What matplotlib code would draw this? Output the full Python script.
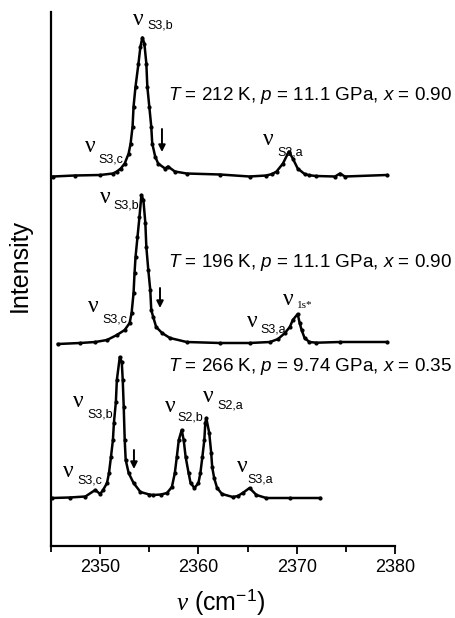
"""
Raman spectra of the S2/S3 stretching region at three (T, p, x) conditions,
stacked with vertical offsets.
"""

import matplotlib
matplotlib.use('Agg')
import matplotlib.pyplot as plt
import numpy as np

plt.rcParams['font.family'] = ['Liberation Sans', 'DejaVu Sans']
plt.rcParams['mathtext.fontset'] = 'custom'
plt.rcParams['mathtext.rm'] = 'Liberation Sans'
plt.rcParams['mathtext.it'] = 'Liberation Serif:italic'
plt.rcParams['mathtext.sf'] = 'Liberation Sans:italic'

# ---- spectra (wavenumber in cm-1, intensity above baseline, a.u.) ----
# T = 212 K, p = 11.1 GPa, x = 0.90
nu_212 = [2345.2, 2347.4, 2350.0, 2351.3, 2351.7, 2352.1, 2352.5, 2352.9, 2353.1,
          2353.3, 2353.4, 2353.6, 2353.9, 2354.1, 2354.3, 2354.5, 2354.7, 2354.8,
          2355.0, 2355.2, 2355.3, 2355.6, 2355.9, 2356.6, 2356.9, 2357.6, 2358.8,
          2362.2, 2365.2, 2366.9, 2367.5, 2367.95, 2368.6, 2369.2, 2369.6, 2370.1,
          2370.8, 2371.3, 2372.0, 2373.9, 2374.4, 2374.9, 2379.15]
int_212 = [0, 1, 1.5, 3, 5, 8, 13, 23, 33,
           50, 70, 90, 113, 130, 139, 133, 113, 90,
           70, 50, 33, 20, 13, 8, 10, 5, 3,
           2, 0, 1, 2.5, 5, 13, 25, 18, 8,
           2.5, 1.2, 0.5, 0, 3, 0, 1.5]

# T = 196 K, p = 11.1 GPa, x = 0.90
nu_196 = [2345.7, 2347.95, 2349.5, 2350.7, 2351.7, 2352.5, 2353.0, 2353.2, 2353.4,
          2353.5, 2353.6, 2353.8, 2354.0, 2354.2, 2354.4, 2354.6, 2354.7, 2354.9,
          2355.1, 2355.2, 2355.4, 2355.7, 2356.3, 2357.1, 2358.8, 2362.2, 2365.2,
          2367.3, 2368.1, 2368.8, 2369.3, 2369.6, 2370.1, 2370.3, 2370.5, 2370.8,
          2371.3, 2372.0, 2374.4, 2379.15]
int_196 = [-1, 0, 1, 3, 8, 13, 20, 30, 50,
           70, 86, 106, 126, 148, 143, 120, 96, 73,
           53, 33, 26, 16, 10, 5, 1, 0, 0,
           1, 4, 10, 16, 23, 29, 20, 13, 5,
           1, 0.3, 1, 1]

# T = 266 K, p = 9.74 GPa, x = 0.35
nu_266 = [2345.1, 2346.9, 2348.5, 2349.5, 2350.0, 2350.3, 2350.7, 2350.9, 2351.1,
          2351.3, 2351.4, 2351.6, 2351.7, 2352.0, 2352.2, 2352.3, 2352.4, 2352.5,
          2352.6, 2352.9, 2353.4, 2354.1, 2355.0, 2355.4, 2356.2, 2356.8, 2357.3,
          2357.6, 2357.8, 2358.0, 2358.3, 2358.5, 2358.7, 2359.0, 2359.2, 2359.6,
          2360.0, 2360.2, 2360.4, 2360.6, 2360.7, 2360.8, 2361.1, 2361.3, 2361.4,
          2361.6, 2361.9, 2362.4, 2363.5, 2364.0, 2364.5, 2365.2, 2365.9, 2366.9,
          2369.3, 2372.4]
int_266 = [0, 0.5, 1.5, 8, 4, 8, 15, 25, 41,
           58, 75, 96, 118, 141, 136, 118, 91, 58,
           38, 25, 15, 6, 3.5, 3, 3.5, 5, 11,
           25, 41, 58, 68, 58, 41, 25, 15, 10,
           15, 25, 41, 58, 75, 80, 65, 45, 31,
           20, 10, 4, 1, 2, 5, 10, 3, 0,
           0, 0]

offsets = [369.5, 203, 48]

def nu_label(ax, x, y, sub, xs, ys, sub_font='Liberation Sans', sub_size=9):
    """Peak label: nu glyph plus a small subscript"""
    ax.text(x, y, '\u03bd', fontsize=17, family='Liberation Serif',
            ha='left', va='baseline')
    ax.text(xs, ys, sub, fontsize=sub_size, family=sub_font,
            ha='left', va='baseline')

def down_arrow(ax, x, y0, y1):
    ax.annotate('', xy=(x, y1), xytext=(x, y0),
                arrowprops=dict(arrowstyle='-|>', color='black', lw=1.4,
                                mutation_scale=10, shrinkA=0, shrinkB=0))

fig = plt.figure(figsize=(4.56, 6.18), dpi=100)
ax = fig.add_axes([51 / 456, 1 - 546 / 618, 344 / 456, 534 / 618])

for nu, inten, off in zip([nu_212, nu_196, nu_266], [int_212, int_196, int_266], offsets):
    ax.plot(nu, np.array(inten) + off, color='black', lw=1.8,
            marker='o', markersize=2.0, solid_joinstyle='round')

ax.set_xlim(2345, 2380)
ax.set_ylim(0, 534)
ax.set_xticks([2350, 2360, 2370, 2380])
ax.set_xticks([2345, 2355, 2365, 2375], minor=True)
ax.tick_params(axis='x', which='major', length=6, width=1.3, labelsize=13, pad=3)
ax.tick_params(axis='x', which='minor', length=4, width=1.3)
ax.set_yticks([])
for side in ['top', 'right']:
    ax.spines[side].set_visible(False)
for side in ['left', 'bottom']:
    ax.spines[side].set_linewidth(1.6)

fig.text(221 / 456, 1 - 602 / 618, r'$\nu$ (cm$^{-1}$)', fontsize=18,
         ha='center', va='center')
fig.text(20 / 456, 1 - 266 / 618, 'Intensity', fontsize=18, rotation=90,
         ha='center', va='center')

# condition labels, right-aligned just inside the figure edge
cond_x = 2385.8
ax.text(cond_x, 451, r'$\mathsf{T}$ = 212 K, $\mathsf{p}$ = 11.1 GPa, $\mathsf{x}$ = 0.90',
        fontsize=13.6, va='center', ha='right', clip_on=False)
ax.text(cond_x, 284, r'$\mathsf{T}$ = 196 K, $\mathsf{p}$ = 11.1 GPa, $\mathsf{x}$ = 0.90',
        fontsize=13.6, va='center', ha='right', clip_on=False)
ax.text(cond_x, 180, r'$\mathsf{T}$ = 266 K, $\mathsf{p}$ = 9.74 GPa, $\mathsf{x}$ = 0.35',
        fontsize=13.6, va='center', ha='right', clip_on=False)

# top spectrum
nu_label(ax, 2353.34, 521, 'S3,b', 2354.77, 518)
nu_label(ax, 2348.46, 394, 'S3,c', 2349.78, 384)
nu_label(ax, 2366.57, 401, 'S3,a', 2367.99, 391)
down_arrow(ax, 2356.29, 417, 394)

# middle spectrum
nu_label(ax, 2349.98, 343, 'S3,b', 2351.31, 338)
nu_label(ax, 2348.76, 234, 'S3,c', 2350.19, 224)
nu_label(ax, 2364.94, 219, 'S3,a', 2366.26, 214)
nu_label(ax, 2368.6, 241, '1s*', 2370.03, 238, sub_font='Liberation Serif', sub_size=8)
down_arrow(ax, 2356.09, 258, 238)

# bottom spectrum
nu_label(ax, 2347.24, 139, 'S3,b', 2348.66, 129)
nu_label(ax, 2356.6, 134, 'S2,b', 2357.82, 126)
nu_label(ax, 2360.46, 144, 'S2,a', 2361.89, 138)
nu_label(ax, 2346.22, 69, 'S3,c', 2347.64, 63)
nu_label(ax, 2363.92, 74, 'S3,a', 2364.94, 64)
down_arrow(ax, 2353.44, 96, 77)

plt.savefig('out.png', dpi=100)
